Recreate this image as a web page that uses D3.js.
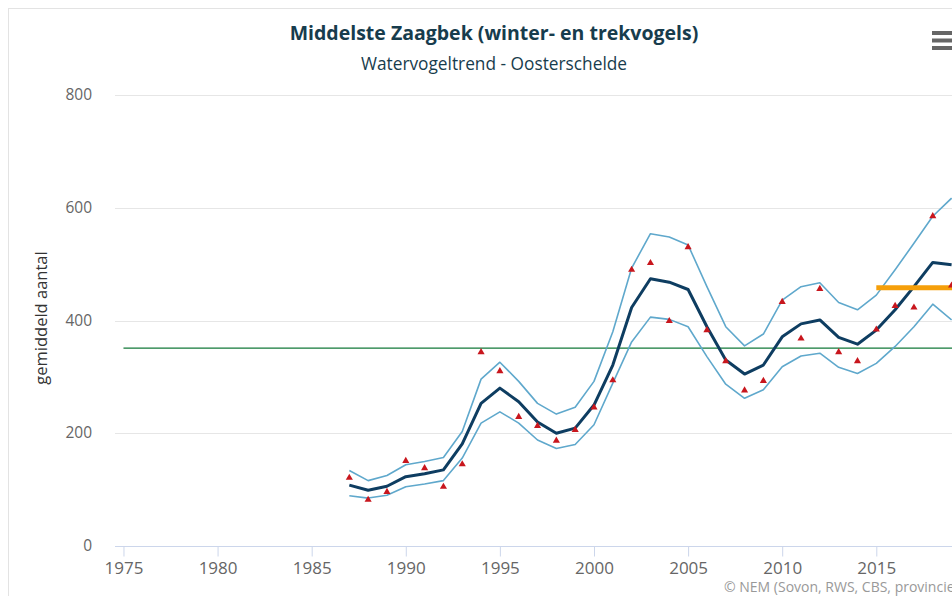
<!DOCTYPE html>
<html>
<head>
<meta charset="utf-8">
<script src="https://cdn.jsdelivr.net/npm/d3@7"></script>
<style>
	body { margin: 0; overflow: hidden; background: #fff; }
	text { font-family: "Open Sans", sans-serif; }
</style>
</head>
<body>
<script>
// values (winter counts, Oosterschelde)
var years = [1987, 1988, 1989, 1990, 1991, 1992, 1993, 1994, 1995, 1996, 1997,
	1998, 1999, 2000, 2001, 2002, 2003, 2004, 2005, 2006, 2007, 2008,
	2009, 2010, 2011, 2012, 2013, 2014, 2015, 2016, 2017, 2018, 2019];

var trend = [108, 99, 106, 123, 128, 135, 181, 253, 280, 256, 220,
	200, 209, 250, 321, 423, 474, 468, 455, 389, 330, 305,
	321, 371, 394, 401, 370, 358, 383, 419, 460, 503, 499];

var upper = [134, 116, 125, 144, 150, 157, 203, 296, 326, 292, 253,
	234, 246, 292, 380, 493, 554, 548, 534, 460, 389, 355,
	376, 436, 460, 467, 432, 419, 445, 490, 537, 585, 617];

var lower = [89, 85, 90, 105, 110, 116, 156, 218, 238, 218, 188,
	173, 180, 215, 289, 362, 406, 402, 389, 336, 287, 262,
	277, 318, 337, 342, 317, 306, 324, 354, 389, 429, 401];

var counts = [121, 82, 96, 151, 138, 105, 145, 344, 310, 229, 213,
	187, 206, 246, 294, 490, 502, 399, 530, 383, 328, 276,
	293, 433, 368, 456, 344, 328, 384, 426, 423, 585, 462];

// reference lines
var longMeanYears = [1975, 2020],
	longMean = [351, 351];
var recentMeanYears = [2015, 2020],
	recentMean = [458, 458];

var xTicks = [1975, 1980, 1985, 1990, 1995, 2000, 2005, 2010, 2015];
var yTicks = [0, 200, 400, 600, 800];

var w = 952, h = 596;

var svg = d3.select('body').append('svg')
	.attr('width', w)
	.attr('height', h);

// chart border (the chart is wider than the window, so it runs off the right)
svg.append('rect')
	.attr('x', 8.5).attr('y', 8.5)
	.attr('width', 1000).attr('height', 700)
	.attr('fill', 'none')
	.attr('stroke', '#e3e3e3');

var x = d3.scaleLinear()
	.domain([1974.55, 2020.35])
	.range([115, 977]);

var y = d3.scaleLinear()
	.domain([0, 800])
	.range([546, 95]);

// grid
svg.append('g')
	.selectAll('line')
	.data(yTicks.slice(1))
	.enter().append('line')
		.attr('x1', 115).attr('x2', 977)
		.attr('y1', function(d) { return Math.round(y(d)) + 0.5; })
		.attr('y2', function(d) { return Math.round(y(d)) + 0.5; })
		.attr('stroke', '#e6e6e6');

// y labels
svg.append('g')
	.selectAll('text')
	.data(yTicks)
	.enter().append('text')
		.attr('x', 92)
		.attr('y', function(d) { return y(d) + 5; })
		.attr('text-anchor', 'end')
		.attr('fill', '#666')
		.style('font-size', '15.5px')
		.text(function(d) { return d; });

svg.append('text')
	.attr('transform', 'translate(47,318)rotate(-90)')
	.attr('text-anchor', 'middle')
	.attr('fill', '#333')
	.style('font-size', '16.5px')
	.text('gemiddeld aantal');

// x axis
var xAxis = d3.axisBottom(x)
	.tickValues(xTicks)
	.tickSize(10)
	.tickPadding(5)
	.tickFormat(d3.format('d'));

var gx = svg.append('g')
	.attr('transform', 'translate(0,546.5)')
	.call(xAxis);

gx.select('.domain').attr('stroke', '#ccd6eb').attr('d', 'M115,0H977');
gx.selectAll('.tick line').attr('stroke', '#ccd6eb');
gx.selectAll('.tick text')
	.attr('fill', '#666')
	.style('font-size', '17px')
	.style('font-family', '"Open Sans", sans-serif');

function series(xs, vs) {
	return xs.map(function(d, i) { return [d, vs[i]]; });
}

var line = d3.line()
	.x(function(d) { return x(d[0]); })
	.y(function(d) { return y(d[1]); });

// long term mean
svg.append('path')
	.attr('d', line(series(longMeanYears, longMean)))
	.attr('fill', 'none')
	.attr('stroke', '#127838')
	.attr('stroke-width', 1.4);

// confidence band
[upper, lower].forEach(function(vs) {
	svg.append('path')
		.attr('d', line(series(years, vs)))
		.attr('fill', 'none')
		.attr('stroke', '#5fa8cc')
		.attr('stroke-width', 1.6)
		.attr('stroke-linejoin', 'round');
});

// trend
svg.append('path')
	.attr('d', line(series(years, trend)))
	.attr('fill', 'none')
	.attr('stroke', '#0e3d61')
	.attr('stroke-width', 3)
	.attr('stroke-linejoin', 'round');

// recent mean
svg.append('path')
	.attr('d', line(series(recentMeanYears, recentMean)))
	.attr('fill', 'none')
	.attr('stroke', '#f59f0a')
	.attr('stroke-width', 5);

// counted values
var tri = d3.symbol().type(d3.symbolTriangle).size(22);

svg.append('g')
	.selectAll('path')
	.data(series(years, counts))
	.enter().append('path')
		.attr('d', tri)
		.attr('transform', function(d) { return 'translate(' + [x(d[0]), y(d[1])] + ')'; })
		.attr('fill', '#c8161d');

// titles
svg.append('text')
	.attr('x', 494).attr('y', 40)
	.attr('text-anchor', 'middle')
	.attr('fill', '#173c4d')
	.style('font-weight', 'bold')
	.style('font-size', '19.5px')
	.text('Middelste Zaagbek (winter- en trekvogels)');

svg.append('text')
	.attr('x', 494).attr('y', 70)
	.attr('text-anchor', 'middle')
	.attr('fill', '#173c4d')
	.style('font-size', '17.3px')
	.text('Watervogeltrend - Oosterschelde');

// menu button
svg.append('g')
	.selectAll('rect')
	.data([0, 1, 2])
	.enter().append('rect')
		.attr('x', 932)
		.attr('y', function(d) { return 31 + d * 7.5; })
		.attr('width', 24).attr('height', 4)
		.attr('fill', '#666');

svg.append('text')
	.attr('x', 724).attr('y', 592)
	.attr('fill', '#999')
	.style('font-size', '14px')
	.text('© NEM (Sovon, RWS, CBS, provincies)');
</script>
</body>
</html>
